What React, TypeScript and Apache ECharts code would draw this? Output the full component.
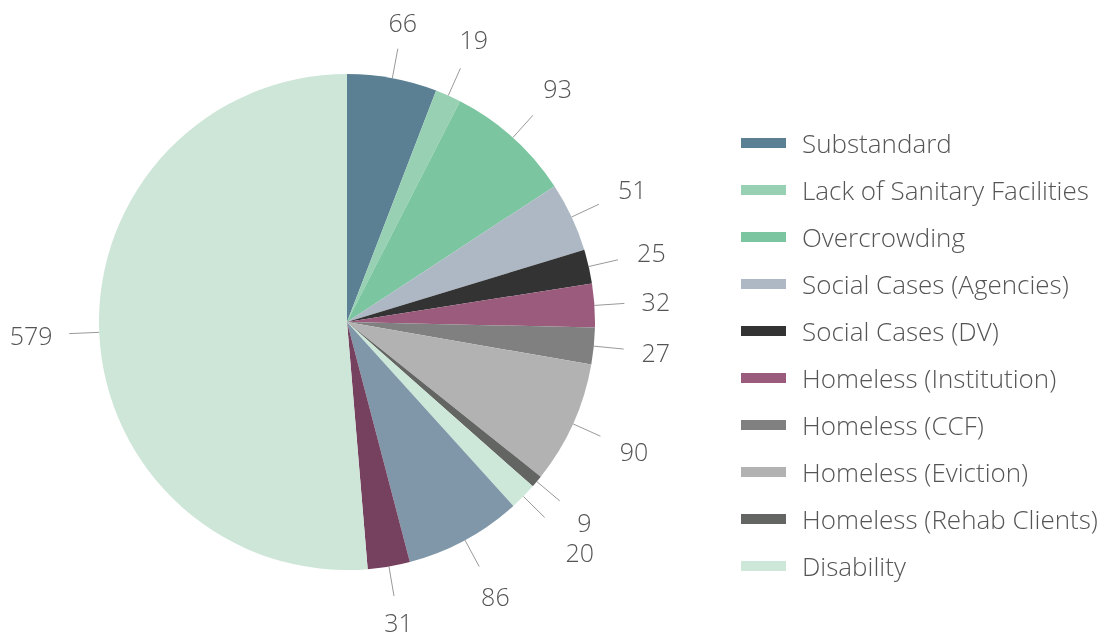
import React, { useEffect, useRef } from "react";
import * as echarts from "echarts";

const categories = [
  "Substandard",
  "Lack of Sanitary Facilities",
  "Overcrowding",
  "Social Cases (Agencies)",
  "Social Cases (DV)",
  "Homeless (Institution)",
  "Homeless (CCF)",
  "Homeless (Eviction)",
  "Homeless (Rehab Clients)",
  "Disability",
  "Medical",
  "Elderly",
  "Others",
];
const values = [66, 19, 93, 51, 25, 32, 27, 90, 9, 20, 86, 31, 579];
const colors = [
  "#5b8094",
  "#98d0b3",
  "#7bc5a0",
  "#adb8c4",
  "#333333",
  "#9b5b7d",
  "#808080",
  "#b1b2b1",
  "#636563",
  "#cde8d9",
  "#7f97a8",
  "#76405f",
  "#cde6d8",
];
const legendItems = categories.slice(0, 10);

const FONT = "'Open Sans', 'Noto Sans', sans-serif";

export default function App() {
  const ref = useRef<HTMLDivElement>(null);
  useEffect(() => {
    if (!ref.current) return;
    const chart = echarts.init(ref.current, undefined, { renderer: "svg" });
    let placed: { x: number; y: number; w: number; h: number }[] = [];
    const BOX_H = 30;
    chart.setOption({
      animation: false,
      color: colors,
      legend: {
        orient: "vertical",
        left: 736,
        top: 125,
        data: legendItems,
        icon: "rect",
        itemWidth: 45,
        itemHeight: 10,
        itemGap: 21,
        selectedMode: false,
        textStyle: {
          fontFamily: FONT,
          fontSize: 26,
          fontWeight: 300,
          color: "#555555",
          lineHeight: 26,
          padding: [0, 0, 0, 11],
        },
      },
      series: [
        {
          type: "pie",
          center: [347, 322],
          radius: [0, 248],
          startAngle: 90,
          clockwise: true,
          avoidLabelOverlap: false,
          data: categories.map((name, i) => ({ name, value: values[i] })),
          label: {
            show: true,
            position: "outside",
            formatter: "{c}",
            fontFamily: FONT,
            fontSize: 25,
            fontWeight: 300,
            lineHeight: 20,
            color: "#555555",
          },
          labelLine: {
            show: true,
            length: 30,
            length2: 0,
            smooth: false,
            lineStyle: { color: "#999999", width: 1 },
          },
          labelLayout: (params: any) => {
            const pts = params.labelLinePoints;
            if (!pts) return {};
            if (params.dataIndex === 0) placed = [];
            const p0 = pts[0];
            const p1 = pts[1];
            let dx = p1[0] - p0[0];
            let dy = p1[1] - p0[1];
            const len = Math.sqrt(dx * dx + dy * dy) || 1;
            dx /= len;
            dy /= len;
            const w = params.labelRect.width;
            const h = 12;
            let off =
              16 +
              (Math.abs(dx) * w) / 2 +
              (Math.abs(dy) * h) / 2 +
              14 * Math.abs(dx * dy);
            const overlaps = (cx: number, cy: number) =>
              placed.some(
                (r) =>
                  Math.abs(r.x - cx) < (r.w + w) / 2 &&
                  Math.abs(r.y - cy) < (r.h + BOX_H) / 2
              );
            let cx = p1[0] + dx * off;
            let cy = p1[1] + dy * off;
            let guard = 0;
            while (overlaps(cx, cy) && guard < 40) {
              off += 1;
              cx = p1[0] + dx * off;
              cy = p1[1] + dy * off;
              guard++;
            }
            placed.push({ x: cx, y: cy, w, h: BOX_H });
            return {
              x: cx,
              y: cy,
              align: "center",
              verticalAlign: "middle",
              labelLinePoints: [p0, p1, p1],
            };
          },
          itemStyle: { borderWidth: 0 },
          emphasis: { disabled: true },
        },
      ],
    });
    return () => chart.dispose();
  }, []);
  return (
    <div
      ref={ref}
      style={{ position: "fixed", left: 0, top: 0, width: 1108, height: 637 }}
    />
  );
}
